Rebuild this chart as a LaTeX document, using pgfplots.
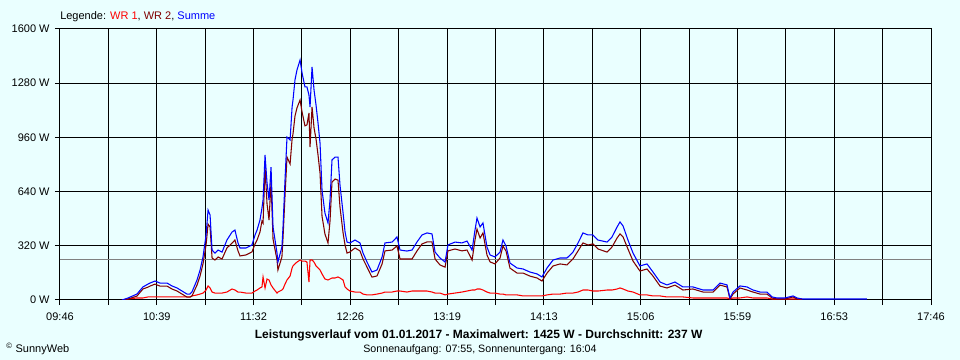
\documentclass[border=0pt]{standalone}
\usepackage{pgfplots}
\pgfplotsset{compat=1.18}
\usepackage{pgfplotstable}
\usepackage{fontspec}
\setmainfont{Liberation Sans}
\definecolor{bgc}{RGB}{234,255,255}
\definecolor{wrone}{RGB}{255,0,0}
\definecolor{wrtwo}{RGB}{128,0,0}
\definecolor{summe}{RGB}{0,0,255}
\pgfplotstableread{
t wr1 wr2 sum
34.2 0 0 0
37.5 6 6 12
42.4 12 23 35
45.7 12 65 77
48.5 18 76 94
49.6 18 82 100
52.4 18 94 112
55.1 18 82 100
59.0 18 82 100
61.7 18 65 83
64.5 18 53 71
70.0 18 17 35
71.6 18 17 35
72.7 24 23 47
75.5 30 88 118
77.2 35 142 177
78.8 41 213 254
80.5 59 325 384
81.6 83 448 531
82.7 71 431 502
83.8 47 248 295
85.4 41 236 277
87.1 41 254 295
89.3 41 242 283
92.0 47 307 354
94.8 65 336 401
96.4 59 354 413
98.1 47 290 337
99.2 47 260 307
102.5 41 266 307
105.8 41 284 325
107.5 53 331 384
108.6 59 354 413
110.2 71 401 472
111.3 77 466 543
111.9 136 454 590
113.0 71 785 856
114.1 124 567 691
115.2 118 472 590
116.3 89 696 785
117.4 71 360 431
119.6 41 236 277
120.1 47 177 224
122.3 59 254 313
122.9 65 366 431
124.0 94 614 708
125.1 118 844 962
126.8 142 803 945
127.9 189 950 1139
128.4 201 980 1181
129.5 213 1086 1299
130.6 224 1134 1358
132.3 236 1181 1417
133.4 230 1110 1340
135.0 230 1028 1258
136.1 224 1034 1258
137.2 106 1104 1210
137.8 236 903 1139
138.9 236 1140 1376
140.0 224 1016 1240
141.1 201 950 1151
142.2 189 856 1045
143.3 177 750 927
144.4 154 495 649
146.0 124 390 514
147.7 118 337 455
148.8 124 466 590
149.9 130 697 827
151.6 130 714 844
153.2 136 708 844
154.3 130 549 679
156.0 118 396 514
157.1 77 324 401
158.2 65 277 342
159.8 53 284 337
162.6 47 307 354
165.3 47 290 337
167.0 35 242 277
169.2 30 194 224
171.9 30 135 165
174.7 35 142 177
177.5 41 213 254
179.1 47 290 337
183.0 47 295 342
185.7 53 319 372
187.4 53 242 295
191.2 47 242 289
194.0 53 242 295
196.7 53 289 342
199.5 53 331 384
202.3 53 343 396
205.0 47 343 390
206.7 41 242 283
209.4 41 207 248
212.2 30 194 224
213.8 35 290 325
217.7 41 301 342
221.5 47 290 337
224.3 53 295 348
227.1 59 236 295
228.7 59 354 413
229.8 65 419 484
231.5 65 366 431
233.1 59 396 455
235.3 47 266 313
237.0 41 225 266
239.7 41 213 254
242.5 35 248 283
244.1 35 319 354
245.8 30 289 319
248.0 30 188 218
251.9 30 159 189
255.2 24 159 183
259.0 24 141 165
262.9 24 130 154
265.6 24 112 136
268.4 30 159 189
271.7 35 201 236
275.6 35 213 248
279.4 41 207 248
282.7 41 242 283
285.5 47 290 337
288.2 59 337 396
291.0 59 325 384
293.7 53 331 384
296.5 53 301 354
301.5 59 283 342
304.2 59 313 372
307.0 65 366 431
308.6 71 390 461
310.3 65 372 437
313.0 53 301 354
315.8 47 230 277
319.6 30 171 201
323.5 30 183 213
326.8 24 141 165
330.7 24 82 106
334.5 18 71 89
338.9 18 88 106
343.3 18 59 77
348.8 12 65 77
354.4 12 47 59
359.9 12 47 59
363.7 12 88 100
367.6 12 77 89
369.2 6 6 12
370.9 12 35 47
374.7 12 71 83
378.6 18 59 77
381.9 12 47 59
385.8 12 35 47
389.6 12 35 47
392.4 6 12 18
395.1 6 6 12
399.5 6 6 12
404.0 6 18 24
406.2 6 6 12
409.0 0 6 6
444.7 nan nan 6
}\datatable
\begin{document}
\begin{tikzpicture}[font=\fontsize{8.25}{10}\selectfont]
\path[use as bounding box, fill=bgc] (-45pt,-45pt) rectangle (675pt,225pt);
\begin{axis}[
  at={(0,0)}, anchor=south west,
  scale only axis, width=653.25pt, height=203.25pt,
  xmin=0, xmax=480, ymin=0, ymax=1600,
  axis background/.style={fill=bgc},
  axis line style={black, line width=0.75pt},
  xtick={0,26.667,53.333,80,106.667,133.333,160,186.667,213.333,240,266.667,293.333,320,346.667,373.333,400,426.667,453.333,480},
  xticklabels={09:46,{},10:39,{},11:32,{},12:26,{},13:19,{},14:13,{},15:06,{},15:59,{},16:53,{},17:46},
  ytick={0,320,640,960,1280,1600},
  yticklabels={0 W,320 W,640 W,960 W,1280 W,1600 W},
  tick align=outside, major tick length=3.75pt,
  tick style={black, line width=0.75pt},
  xtick pos=bottom, ytick pos=left,
  grid=major, major grid style={black, line width=0.75pt},
  xticklabel style={yshift=-2pt},
  yticklabel style={xshift=-0.5pt},
  unbounded coords=jump,
]
\addplot[gray, line width=0.9pt, no markers] coordinates {(0,237) (480,237)};
\addplot[wrone, line width=0.8pt, no markers] table[x=t, y=wr1] {\datatable};
\addplot[wrtwo, line width=0.8pt, no markers] table[x=t, y=wr2] {\datatable};
\addplot[summe, line width=0.8pt, no markers] table[x=t, y=sum] {\datatable};
\end{axis}
\node[anchor=west, inner sep=0pt] at (0pt,212.25pt) {Legende: \textcolor{wrone}{WR 1}, \textcolor{wrtwo}{WR 2}, \textcolor{summe}{Summe}};
\node[inner sep=0pt, font=\fontsize{9}{11}\selectfont\bfseries] at (314pt,-26.25pt) {Leistungsverlauf vom 01.01.2017 - Maximalwert: 1425 W - Durchschnitt: 237 W};
\node[inner sep=0pt, font=\fontsize{8}{10}\selectfont] at (315pt,-37.5pt) {Sonnenaufgang: 07:55, Sonnenuntergang: 16:04};
\node[anchor=west, inner sep=0pt] at (-40.5pt,-36.75pt) {\textsuperscript{©} SunnyWeb};
\end{tikzpicture}
\end{document}
